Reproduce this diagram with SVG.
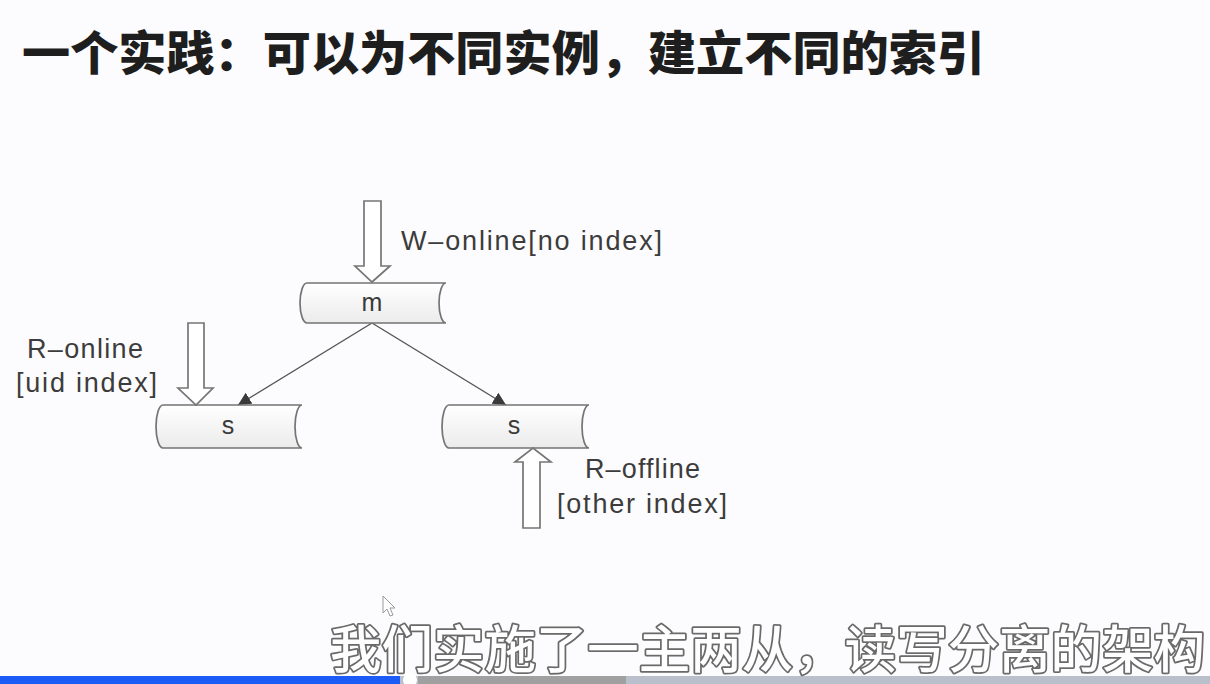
<svg xmlns="http://www.w3.org/2000/svg" width="1210" height="684" viewBox="0 0 1210 684">
  <defs>
    <linearGradient id="nodeFill" x1="0" y1="0" x2="0" y2="1">
      <stop offset="0" stop-color="#ffffff"/>
      <stop offset="1" stop-color="#ebebeb"/>
    </linearGradient>
    <marker id="tri" viewBox="0 0 10 10" refX="10" refY="5" markerWidth="13" markerHeight="13" markerUnits="userSpaceOnUse" orient="auto">
      <path d="M0,0 L10,5 L0,10 Z" fill="#3a3a3a"/>
    </marker>
    <style>
      .title { font-family: "Noto Sans CJK SC", "Noto Sans", sans-serif; font-weight: 900; font-size: 47px; fill: #1e1e1e; }
      .node { fill: url(#nodeFill); stroke: #747474; stroke-width: 1.7; }
      .node-label { font-family: "Liberation Sans", Arial, sans-serif; font-size: 25px; fill: #3a3a3a; text-anchor: middle; }
      .label { font-family: "Liberation Sans", Arial, sans-serif; font-size: 27px; fill: #3c3c3c; }
      .block { fill: #ffffff; stroke: #767676; stroke-width: 1.7; stroke-linejoin: miter; }
      .edge { stroke: #555555; stroke-width: 1.4; fill: none; marker-end: url(#tri); }
      .caption { font-family: "Noto Sans CJK SC", "Noto Sans", sans-serif; font-weight: 500; font-size: 51px; fill: #ffffff; stroke: #6a6a6a; stroke-width: 3.5; paint-order: stroke; stroke-linejoin: round; }
    </style>
  </defs>

  <!-- page background -->
  <rect x="0" y="0" width="1210" height="684" fill="#fcfbfd"/>

  <!-- heading -->
  <text class="title" x="22" y="70" textLength="963" lengthAdjust="spacingAndGlyphs">一个实践：可以为不同实例，建立不同的索引</text>

  <!-- replication edges: master to the two slaves -->
  <g id="connectors">
    <line class="edge" x1="372" y1="323" x2="238" y2="405"/>
    <line class="edge" x1="372" y1="323" x2="506" y2="405"/>
  </g>

  <!-- master -->
  <g id="node-m">
    <path class="node" d="M307,283 H446 A7,20 0 0 0 446,323 H307 A7,20 0 0 1 307,283 Z"/>
    <text class="node-label" x="372" y="311">m</text>
  </g>

  <!-- online read slave -->
  <g id="node-s-online">
    <path class="node" d="M163,405 H302 A7,21.5 0 0 0 302,448 H163 A7,21.5 0 0 1 163,405 Z"/>
    <text class="node-label" x="228" y="434">s</text>
  </g>

  <!-- offline read slave -->
  <g id="node-s-offline">
    <path class="node" d="M449,405 H589 A7,21.5 0 0 0 589,448 H449 A7,21.5 0 0 1 449,405 Z"/>
    <text class="node-label" x="514" y="434">s</text>
  </g>

  <!-- online write traffic into master -->
  <g id="flow-w-online">
    <path class="block" d="M364,201 H381 V266 H390 L372,282 L355,266 H364 Z"/>
    <text class="label" x="401" y="250" textLength="261" lengthAdjust="spacing">W–online[no index]</text>
  </g>

  <!-- online read traffic into first slave -->
  <g id="flow-r-online">
    <path class="block" d="M188,323 H204 V388 H213 L196,405 L178,388 H188 Z"/>
    <text class="label" x="27" y="358" textLength="116" lengthAdjust="spacing">R–online</text>
    <text class="label" x="16" y="392" textLength="141" lengthAdjust="spacing">[uid index]</text>
  </g>

  <!-- offline read traffic into second slave -->
  <g id="flow-r-offline">
    <path class="block" d="M523,528 H540 V462 H551 L533,448 L515,462 H523 Z"/>
    <text class="label" x="585" y="478" textLength="115" lengthAdjust="spacing">R–offline</text>
    <text class="label" x="557" y="513" textLength="170" lengthAdjust="spacing">[other index]</text>
  </g>

  <!-- mouse pointer -->
  <path d="M383,596 V613 L387,609 L390,616 L393,615 L390,608 L395,608 Z" fill="#ffffff" stroke="#9a9a9a" stroke-width="1"/>

  <!-- player progress bar -->
  <rect x="0" y="676" width="1210" height="8" fill="#b9c0cc"/>
  <rect x="0" y="676" width="400" height="8" fill="#1a5cf5"/>
  <rect x="418" y="676" width="208" height="8" fill="#a0a0a0"/>
  <circle cx="410" cy="680" r="7" fill="#ffffff"/>

  <!-- subtitle -->
  <text class="caption" x="330" y="668" textLength="875" lengthAdjust="spacingAndGlyphs">我们实施了一主两从，读写分离的架构</text>
</svg>
